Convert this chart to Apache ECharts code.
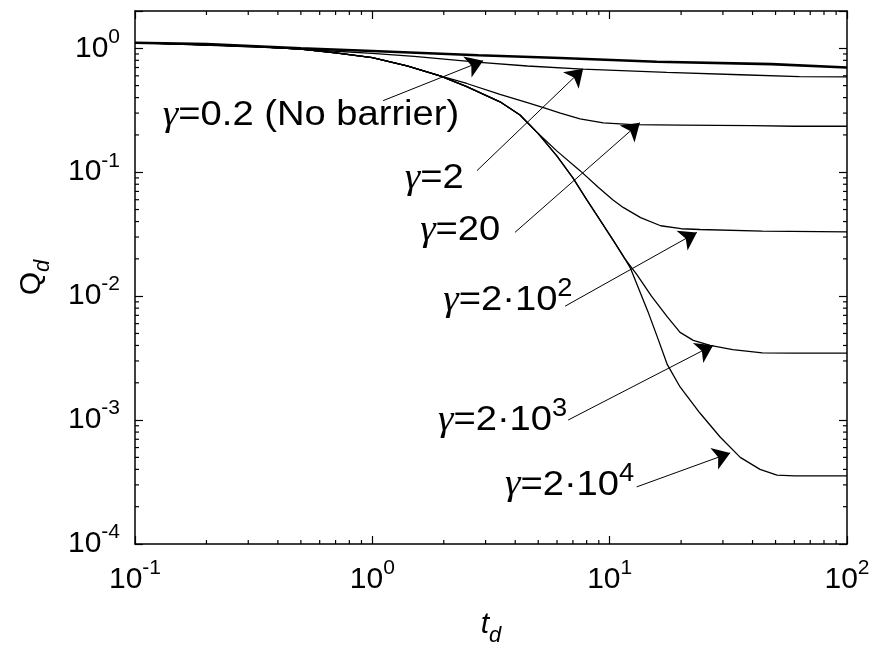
<!doctype html>
<html>
<head>
<meta charset="utf-8">
<title>Qd vs td</title>
<script src="https://cdn.jsdelivr.net/npm/echarts@6/dist/echarts.min.js"></script>
<style>
    html, body { margin: 0; padding: 0; background: #fff; }
    #main { width: 877px; height: 660px; }
</style>
</head>
<body>
<div id="main"></div>
<script>
// no barrier curve (thick) and gamma = 2
var tNoBarrier = [0.1, 0.2, 0.5, 1, 2.8, 6.2, 15.8, 48, 100];
var qNoBarrier = [1.11, 1.08, 1.0, 0.95, 0.88, 0.835, 0.78, 0.745, 0.70];
var tG2 = [0.1, 0.4, 0.62, 1, 1.5, 2.84, 4.5, 7.7, 17.4, 35.6, 63, 100];
var qG2 = [1.11, 1.01, 0.96, 0.91, 0.86, 0.77, 0.72, 0.68, 0.64, 0.612, 0.59, 0.589];

// common steep part followed by the larger gamma curves
var tCommon = [0.1, 0.3, 0.5, 0.7, 1.0, 1.4, 1.93, 2.5, 3.45, 4.19, 5.0, 6.0, 7.0, 8.0, 9.2, 10.5, 11.6];
var qCommon = [1.11, 1.04, 0.985, 0.92, 0.84, 0.72, 0.60, 0.49, 0.37, 0.29, 0.205, 0.135, 0.09, 0.06, 0.04, 0.027, 0.02];

// tails after each curve leaves the common part
var tG20 = [2.5, 3.45, 4.5, 5.3, 6.2, 7.5, 9.4, 12.5, 20, 40, 60, 100];
var qG20 = [0.52, 0.425, 0.364, 0.33, 0.3, 0.27, 0.25, 0.242, 0.24, 0.238, 0.235, 0.235];
var tG200 = [6.0, 7.5, 9.0, 10.3, 11.4, 13.5, 16.4, 20, 24, 44, 100];
var qG200 = [0.148, 0.103, 0.075, 0.06, 0.052, 0.043, 0.037, 0.035, 0.0345, 0.0335, 0.033];
var tG2000 = [13, 15, 17.5, 19.8, 22.5, 26.5, 33, 44, 60, 100];
var qG2000 = [0.015, 0.010, 0.0068, 0.0051, 0.0044, 0.0040, 0.0037, 0.00349, 0.00347, 0.00347];
var tG20000 = [12.2, 14.5, 16, 17.5, 19.8, 24, 29.2, 35.5, 43, 50.7, 60, 100];
var qG20000 = [0.017, 0.0075, 0.0045, 0.0028, 0.00185, 0.00114, 0.00073, 0.0005, 0.0004, 0.00036, 0.000355, 0.000355];

// annotations (data coords)
var labelText = ['=0.2 (No barrier)', '=2', '=20', '=2\u00b710', '=2\u00b710', '=2\u00b710'];
var labelSup = ['', '', '', '2', '3', '4'];
var labelT = [0.131, 1.37, 1.59, 1.99, 1.89, 3.62];
var labelQ = [0.286, 0.089, 0.034, 0.0093, 0.001, 0.0003];
var arrowFrom = [[1.11, 0.378], [2.76, 0.103], [3.99, 0.0327], [6.49, 0.0083], [6.68, 0.001], [13.0, 0.000289]];
var arrowTo = [[2.93, 0.793], [7.73, 0.684], [13.4, 0.251], [23.3, 0.0327], [27.3, 0.00402], [32.2, 0.000543]];

var X_MIN = 0.1, X_MAX = 100, Y_MIN = 1e-4, Y_MAX = 2;
var FONT = 'Liberation Sans';

function pairs(ts, qs) {
    return ts.map(function (t, i) { return [t, qs[i]]; });
}
function withCommon(lastIdx, ts, qs) {
    return pairs(tCommon.slice(0, lastIdx + 1), qCommon.slice(0, lastIdx + 1)).concat(pairs(ts, qs));
}

function isDecade(v) {
    var e = Math.log10(v);
    return Math.abs(e - Math.round(e)) < 1e-6;
}
function powLabel(v) {
    if (!isDecade(v)) return '';
    return '{b|10}{s|' + Math.round(Math.log10(v)) + '}';
}
var tickRich = {
    b: { fontFamily: FONT, fontSize: 30, lineHeight: 44, color: '#000' },
    s: { fontFamily: FONT, fontSize: 21, lineHeight: 16, verticalAlign: 'top', color: '#000' }
};
var noteRich = {
    g: { fontFamily: 'Liberation Serif', fontStyle: 'italic', fontSize: 36, lineHeight: 46, fill: '#000', color: '#000' },
    t: { fontFamily: FONT, fontSize: 35, lineHeight: 46, fill: '#000', color: '#000' },
    s: { fontFamily: FONT, fontSize: 25, lineHeight: 18, verticalAlign: 'top', fill: '#000', color: '#000' }
};

var xMinor = [], yMinor = [];
for (var e = -1; e < 2; e++) for (var m = 2; m < 10; m++) xMinor.push(m * Math.pow(10, e));
for (var e2 = -4; e2 < 1; e2++) for (var m2 = 2; m2 < 10; m2++) {
    var v = m2 * Math.pow(10, e2);
    if (v < Y_MAX) yMinor.push(v);
}

function axisBase(extra) {
    var a = {
        type: 'log', logBase: 10,
        axisLine: { show: true, onZero: false, lineStyle: { color: '#000', width: 1.5 } },
        axisTick: { show: true, inside: true, length: 8, lineStyle: { color: '#000', width: 1.2 } },
        splitLine: { show: false },
        minorTick: { show: false }
    };
    for (var k in extra) a[k] = extra[k];
    return a;
}

function curve(name, data, width) {
    return {
        name: name, type: 'line', data: data, showSymbol: false, symbol: 'none',
        lineStyle: { color: '#000', width: width || 1.3 }, animation: false, silent: true,
        xAxisIndex: 0, yAxisIndex: 0
    };
}

var arrowData = arrowFrom.map(function (p, i) {
    return [{ coord: p }, { coord: arrowTo[i] }];
});

var chart = echarts.init(document.getElementById('main'));
chart.setOption({
    backgroundColor: '#fff',
    animation: false,
    grid: { left: 135, right: 30, top: 11, bottom: 116, outerBoundsMode: 'none' },
    xAxis: [
        axisBase({
            position: 'bottom', min: X_MIN, max: X_MAX,
            axisLabel: { formatter: powLabel, rich: tickRich, margin: 14, align: 'center' },
            name: '{t|t}{d|d}', nameLocation: 'middle', nameGap: 59,
            nameTextStyle: {
                rich: {
                    t: { fontFamily: FONT, fontSize: 30, fontStyle: 'italic', lineHeight: 44, color: '#000' },
                    d: { fontFamily: FONT, fontSize: 22, fontStyle: 'italic', lineHeight: 14, verticalAlign: 'bottom', color: '#000' }
                }
            }
        }),
        axisBase({ position: 'top', min: X_MIN, max: X_MAX, axisLabel: { show: false } })
    ],
    yAxis: [
        axisBase({
            position: 'left', min: Y_MIN, max: Y_MAX,
            axisLabel: { formatter: powLabel, rich: tickRich, margin: 15 },
            name: '{q|Q}{d|d}', nameLocation: 'middle', nameGap: 81, nameRotate: 90,
            nameTextStyle: {
                rich: {
                    q: { fontFamily: FONT, fontSize: 30, lineHeight: 44, color: '#000' },
                    d: { fontFamily: FONT, fontSize: 22, fontStyle: 'italic', lineHeight: 14, verticalAlign: 'bottom', color: '#000' }
                }
            }
        }),
        axisBase({ position: 'right', min: Y_MIN, max: Y_MAX, axisLabel: { show: false } })
    ],
    series: [
        curve('gamma=0.2', pairs(tNoBarrier, qNoBarrier), 2.6),
        curve('gamma=2', pairs(tG2, qG2)),
        curve('gamma=20', withCommon(6, tG20, qG20)),
        curve('gamma=200', withCommon(10, tG200, qG200)),
        curve('gamma=2000', withCommon(16, tG2000, qG2000)),
        curve('gamma=20000', withCommon(16, tG20000, qG20000)),
        {
            // arrows
            type: 'line', data: [], silent: true, animation: false,
            markLine: {
                silent: true, animation: false,
                symbol: ['none', 'arrow'], symbolSize: 17,
                lineStyle: { color: '#000', width: 1, type: 'solid' },
                label: { show: false },
                data: arrowData
            }
        },
        {
            // minor ticks on all four sides
            type: 'custom', data: [[1, 1]], silent: true, animation: false, clip: false,
            renderItem: function (params, api) {
                var kids = [];
                var st = { stroke: '#000', lineWidth: 1.2 };
                xMinor.forEach(function (t) {
                    var b = api.coord([t, Y_MIN]), top = api.coord([t, Y_MAX]);
                    kids.push({ type: 'line', shape: { x1: b[0], y1: b[1], x2: b[0], y2: b[1] - 4 }, style: st });
                    kids.push({ type: 'line', shape: { x1: top[0], y1: top[1], x2: top[0], y2: top[1] + 4 }, style: st });
                });
                yMinor.forEach(function (q) {
                    var l = api.coord([X_MIN, q]), r = api.coord([X_MAX, q]);
                    kids.push({ type: 'line', shape: { x1: l[0], y1: l[1], x2: l[0] + 4, y2: l[1] }, style: st });
                    kids.push({ type: 'line', shape: { x1: r[0], y1: r[1], x2: r[0] - 4, y2: r[1] }, style: st });
                });
                return { type: 'group', children: kids };
            }
        }
    ]
});

// curve labels, placed through the axes and stretched a little sideways like the original lettering
chart.setOption({
    graphic: labelText.map(function (txt, i) {
        var p = chart.convertToPixel({ xAxisIndex: 0, yAxisIndex: 0 }, [labelT[i], labelQ[i]]);
        return {
            type: 'text', x: p[0], y: p[1], scaleX: 1.09, silent: true,
            style: {
                text: '{g|\u03b3}{t|' + txt + '}' + (labelSup[i] ? '{s|' + labelSup[i] + '}' : ''),
                rich: noteRich, fill: '#000',
                align: 'left', verticalAlign: 'middle',
                textAlign: 'left', textVerticalAlign: 'middle'
            }
        };
    })
});
</script>
</body>
</html>
